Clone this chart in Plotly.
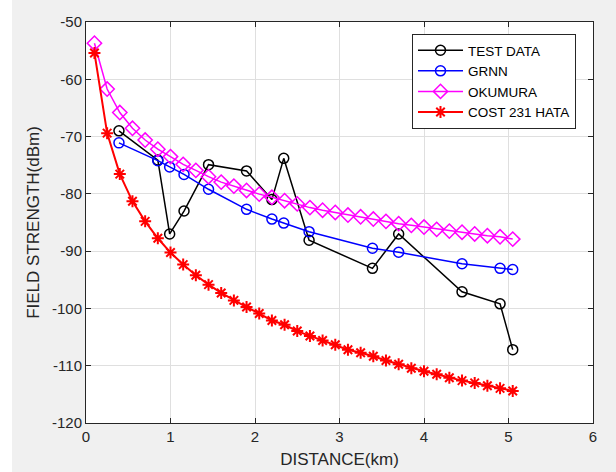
import plotly.graph_objects as go

# TEST DATA
test_x = [0.39, 0.85, 0.99, 1.16, 1.45, 1.90, 2.20, 2.34, 2.64, 3.39, 3.70, 4.45, 4.90, 5.05]
test_y = [-69.0, -74.1, -87.0, -83.0, -74.9, -76.0, -81.0, -73.8, -88.1, -93.0, -87.0, -97.1, -99.2, -107.2]

# GRNN
grnn_x = [0.39, 0.85, 0.99, 1.16, 1.45, 1.90, 2.20, 2.34, 2.64, 3.39, 3.70, 4.45, 4.90, 5.05]
grnn_y = [-71.1, -74.2, -75.3, -76.6, -79.2, -82.7, -84.4, -85.1, -86.6, -89.5, -90.2, -92.2, -93.0, -93.2]

# Model distances (km)
model_x = [0.10, 0.25, 0.40, 0.55, 0.70, 0.85, 1.00, 1.15, 1.30, 1.45, 1.60, 1.75,
           1.90, 2.05, 2.20, 2.35, 2.50, 2.65, 2.80, 2.95, 3.10, 3.25, 3.40, 3.55,
           3.70, 3.85, 4.00, 4.15, 4.30, 4.45, 4.60, 4.75, 4.90, 5.05]

# OKUMURA
okumura_y = [-53.7, -61.7, -65.8, -68.55, -70.6, -72.2, -73.5, -74.85, -75.9, -77.0,
             -77.95, -78.65, -79.4, -80.05, -80.6, -81.2, -81.75, -82.4, -82.85, -83.25,
             -83.7, -84.0, -84.4, -84.8, -85.2, -85.5, -85.8, -86.2, -86.5, -86.7,
             -87.0, -87.3, -87.5, -87.9]

# COST 231 HATA
cost_y = [-55.4, -69.4, -76.55, -81.3, -84.8, -87.75, -90.25, -92.35, -94.2, -95.85,
          -97.3, -98.6, -99.75, -100.9, -102.1, -102.85, -103.95, -104.8, -105.6, -106.35,
          -107.2, -107.75, -108.35, -109.1, -109.75, -110.45, -110.97, -111.5, -112.1, -112.6,
          -113.0, -113.5, -113.95, -114.4]

x_ticks = [0, 1, 2, 3, 4, 5, 6]
y_ticks = [-120, -110, -100, -90, -80, -70, -60, -50]

FONT = "Liberation Sans, Arial, sans-serif"
TXT = "#262626"

fig = go.Figure()
fig.add_trace(go.Scatter(
    x=test_x, y=test_y, name="TEST DATA", mode="lines+markers",
    line=dict(color="black", width=1.5),
    marker=dict(symbol="circle-open", size=10, color="black", line=dict(width=1.5))))
fig.add_trace(go.Scatter(
    x=grnn_x, y=grnn_y, name="GRNN", mode="lines+markers",
    line=dict(color="#0000ff", width=1.5),
    marker=dict(symbol="circle-open", size=10, color="#0000ff", line=dict(width=1.5))))
fig.add_trace(go.Scatter(
    x=model_x, y=okumura_y, name="OKUMURA", mode="lines+markers",
    line=dict(color="#ff00ff", width=1.5),
    marker=dict(symbol="diamond-open", size=11, color="#ff00ff", line=dict(width=1.5))))
fig.add_trace(go.Scatter(
    x=model_x, y=cost_y, name="COST 231 HATA", mode="lines+markers",
    line=dict(color="#ff0000", width=2),
    marker=dict(symbol="asterisk-open", size=10, color="#ff0000", line=dict(width=2, color="#ff0000"))))

axis_common = dict(
    showline=True, linecolor="#262626", linewidth=1, mirror="ticks",
    ticks="inside", ticklen=5, tickcolor="#262626",
    showgrid=True, gridcolor="#dfdfdf", gridwidth=1, zeroline=False,
    tickfont=dict(family=FONT, size=15, color=TXT),
)

fig.update_xaxes(range=[0, 6], tickvals=x_ticks, ticktext=[str(v) for v in x_ticks],
                 title=dict(text="DISTANCE(km)", font=dict(family=FONT, size=17, color=TXT), standoff=9),
                 **axis_common)
fig.update_yaxes(range=[-120, -50], tickvals=y_ticks, ticktext=[str(v) for v in y_ticks],
                 title=dict(text="FIELD STRENGTH(dBm)", font=dict(family=FONT, size=17, color=TXT), standoff=8),
                 **axis_common)

fig.update_layout(
    width=616, height=472,
    margin=dict(l=86, r=23, t=22, b=49, autoexpand=False),
    paper_bgcolor="#f0f0f0", plot_bgcolor="white",
    showlegend=True,
    legend=dict(x=0.643, y=0.97, xanchor="left", yanchor="top",
                bgcolor="white", bordercolor="#262626", borderwidth=1,
                font=dict(family=FONT, size=13.5, color="black"),
                itemwidth=45, tracegroupgap=0),
    shapes=[dict(type="rect", xref="paper", yref="paper",
                 x0=-86/507, x1=-74/507, y0=-49/401, y1=(401+22)/401,
                 fillcolor="white", line=dict(width=0), layer="below")],
)

fig.write_html("out.html")
